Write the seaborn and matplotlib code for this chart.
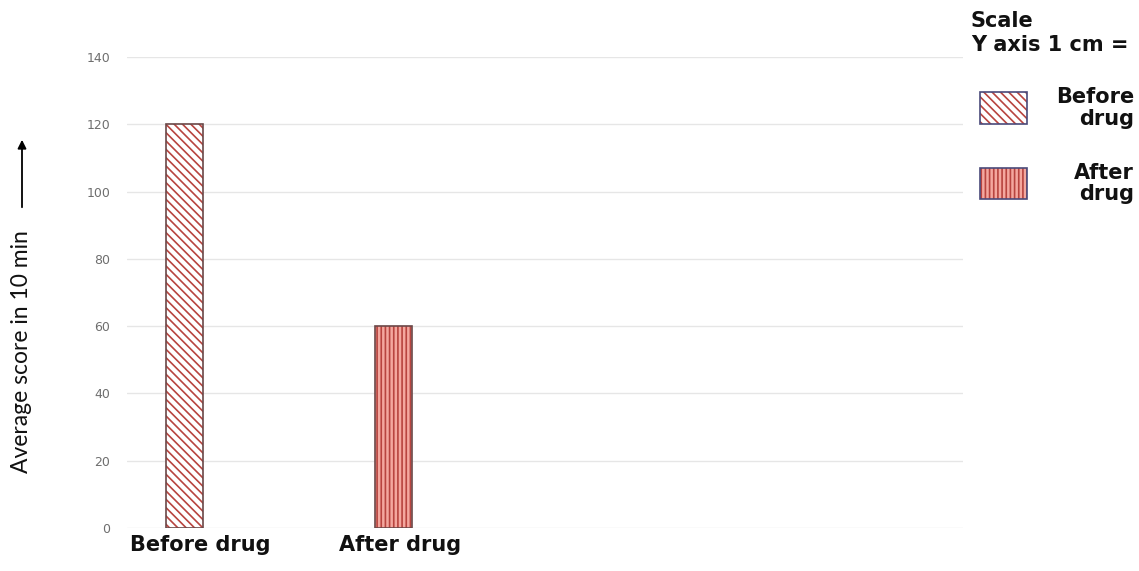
import matplotlib
matplotlib.use("Agg")
import matplotlib.pyplot as plt
from matplotlib.patches import Rectangle, FancyArrowPatch
from matplotlib.transforms import ScaledTranslation
import seaborn as sns
import pandas as pd

# Data
categories = ["Before drug", "After drug"]
scores = [120, 60]
hatches = ["\\\\\\\\", "||||"]
y_ticks = [0, 20, 40, 60, 80, 100, 120, 140]

sns.set_theme(style="white")
plt.rcParams["font.family"] = ["DejaVu Sans"]
plt.rcParams["hatch.linewidth"] = 1.2

line_red = "#b8443f"
fills = ["white", "#f4a79e"]
edge_dark = "#6b4848"

df = pd.DataFrame({"group": categories, "score": scores})

W, H = 1139, 571
fig = plt.figure(figsize=(W / 100, H / 100), dpi=100)
ax = fig.add_axes([127 / W, 1 - 528 / H, (963 - 127) / W, (528 - 57) / H])

sns.barplot(data=df, x="group", y="score", ax=ax, width=0.177,
            color="white", linewidth=0, saturation=1)

for bar, h, fc in zip(ax.patches, hatches, fills):
    bar.set_hatch(h)
    bar.set_edgecolor(line_red)
    bar.set_facecolor(fc)
    outline = Rectangle(bar.get_xy(), bar.get_width(), bar.get_height(),
                        fill=False, edgecolor=edge_dark, linewidth=1.2, zorder=3)
    ax.add_patch(outline)

ax.set_xlim(-0.275, 3.725)
ax.set_ylim(0, 140)
ax.set_yticks(y_ticks)
ax.yaxis.grid(True, color="#e6e6e6", linewidth=1)
ax.set_axisbelow(True)
for s in ax.spines.values():
    s.set_visible(False)

ax.tick_params(axis="y", labelsize=9, labelcolor="#6e6e6e", length=0, pad=12)
ax.tick_params(axis="x", length=0, pad=5)
ax.set_xlabel("")
ax.set_ylabel("")
for lbl in ax.get_xticklabels():
    lbl.set_fontsize(15)
    lbl.set_fontweight("bold")
    lbl.set_color("#111111")
    lbl.set_horizontalalignment("left")
    lbl.set_transform(lbl.get_transform() + ScaledTranslation(-0.545, 0, fig.dpi_scale_trans))

# Y-axis title with upward arrow
fig.text(22 / W, 1 - 352 / H, "Average score in 10 min", rotation=90,
         ha="center", va="center", fontsize=16.5, family=["Lato", "DejaVu Sans"],
         color="#111111")
fig.add_artist(FancyArrowPatch(
    (22 / W, 1 - 210 / H), (22 / W, 1 - 137 / H), transform=fig.transFigure,
    arrowstyle="-|>,head_length=5,head_width=2.5", color="black", linewidth=1.3,
    mutation_scale=1))

# Scale note and key
fig.text(971 / W, 1 - 21 / H, "Scale", fontsize=15, fontweight="bold",
         ha="left", va="center", color="#111111")
fig.text(971 / W, 1 - 45 / H, "Y axis 1 cm =", fontsize=15, fontweight="bold",
         ha="left", va="center", color="#111111")

key_rows = [(92, 124), (168, 199)]
for (top, bottom), h, fc, name in zip(key_rows, hatches, fills, categories):
    fig.add_artist(Rectangle((980 / W, 1 - bottom / H), 47 / W, (bottom - top) / H,
                             transform=fig.transFigure, facecolor=fc,
                             edgecolor=line_red, hatch=h, linewidth=0))
    fig.add_artist(Rectangle((980 / W, 1 - bottom / H), 47 / W, (bottom - top) / H,
                             transform=fig.transFigure, fill=False,
                             edgecolor="#4a4a7a", linewidth=1.2))
    fig.text(1134 / W, 1 - (top + bottom) / 2 / H, name.replace(" ", "\n"),
             fontsize=15, fontweight="bold", ha="right", va="center",
             multialignment="right", linespacing=1.1, color="#111111")

fig.savefig("out.png", dpi=100)
